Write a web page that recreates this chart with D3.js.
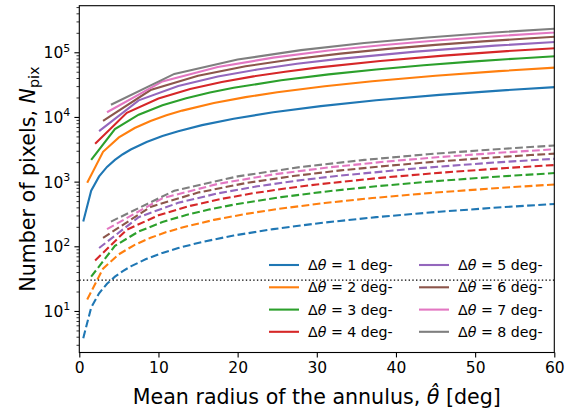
<!DOCTYPE html>
<html>
<head>
<meta charset="utf-8">
<script src="https://cdn.jsdelivr.net/npm/d3@7"></script>
<style>
  html, body { margin: 0; padding: 0; background: #fff; }
  svg { display: block; font-family: "DejaVu Sans", sans-serif; }
</style>
</head>
<body>
<svg id="chart" width="572" height="412"></svg>
<script>
// ---------------- data ----------------
const deltas = [1, 2, 3, 4, 5, 6, 7, 8];
const colors = ["#1f77b4", "#ff7f0e", "#2ca02c", "#d62728", "#9467bd", "#8c564b", "#e377c2", "#7f7f7f"];

// mean radius of each annulus (deg) for each Δθ
const theta1 = [0.5, 1.5, 2.5, 3.5, 4.5, 5.5, 6.5, 8.5, 10.5, 12.5, 15.5, 19.5, 24.5, 30.5, 37.5, 45.5, 53.5, 61.5];
const theta2 = [1, 3, 5, 7, 9, 11, 13, 17, 21, 25, 31, 37, 45, 53, 61];
const theta3 = [1.5, 4.5, 7.5, 10.5, 13.5, 16.5, 19.5, 25.5, 31.5, 37.5, 43.5, 49.5, 55.5, 61.5];
const theta4 = [2, 6, 10, 14, 18, 22, 26, 30, 38, 46, 54, 62];
const theta5 = [2.5, 7.5, 12.5, 17.5, 22.5, 27.5, 32.5, 42.5, 52.5, 62.5];
const theta6 = [3, 9, 15, 21, 27, 33, 39, 45, 51, 57, 63];
const theta7 = [3.5, 10.5, 17.5, 24.5, 31.5, 38.5, 45.5, 52.5, 59.5, 66.5];
const theta8 = [4, 12, 20, 28, 36, 44, 52, 60, 68];

// number of pixels, fine resolution (solid lines)
const fine1 = [241, 723, 1205, 1687, 2169, 2651, 3133, 4097, 5061, 6025, 7471, 9399, 11809, 14701, 18075, 21931, 25787, 29643];
const fine2 = [964, 2892, 4820, 6748, 8676, 10604, 12532, 16388, 20244, 24100, 29884, 35668, 43380, 51092, 58804];
const fine3 = [2169, 6507, 10845, 15183, 19521, 23859, 28197, 36873, 45549, 54225, 62901, 71577, 80253, 88929];
const fine4 = [3856, 11568, 19280, 26992, 34704, 42416, 50128, 57840, 73264, 88688, 104112, 119536];
const fine5 = [6025, 18075, 30125, 42175, 54225, 66275, 78325, 102425, 126525, 150625];
const fine6 = [8676, 26028, 43380, 60732, 78084, 95436, 112788, 130140, 147492, 164844, 182196];
const fine7 = [11809, 35427, 59045, 82663, 106281, 129899, 153517, 177135, 200753, 224371];
const fine8 = [15424, 46272, 77120, 107968, 138816, 169664, 200512, 231360, 262208];

// number of pixels, coarse resolution (dashed lines)
const coarse1 = [3.8, 11.3, 18.8, 26.4, 33.9, 41.4, 48.9, 64.0, 79.1, 94.1, 116.7, 146.8, 184.5, 229.7, 282.4, 342.6, 402.9, 463.1];
const coarse2 = [15.1, 45.2, 75.3, 105.4, 135.5, 165.7, 195.8, 256.0, 316.3, 376.5, 466.9, 557.2, 677.7, 798.2, 918.7];
const coarse3 = [33.9, 101.7, 169.4, 237.2, 305.0, 372.7, 440.5, 576.0, 711.6, 847.1, 982.7, 1118.2, 1253.7, 1389.3];
const coarse4 = [60.2, 180.7, 301.2, 421.7, 542.2, 662.6, 783.1, 903.6, 1144.6, 1385.5, 1626.5, 1867.4];
const coarse5 = [94.1, 282.4, 470.6, 658.9, 847.1, 1035.4, 1223.6, 1600.1, 1976.6, 2353.1];
const coarse6 = [135.5, 406.6, 677.7, 948.8, 1219.9, 1490.9, 1762.0, 2033.1, 2304.2, 2575.3, 2846.3];
const coarse7 = [184.5, 553.5, 922.4, 1291.4, 1660.4, 2029.3, 2398.3, 2767.3, 3136.2, 3505.2];
const coarse8 = [241.0, 722.9, 1204.8, 1686.7, 2168.6, 2650.6, 3132.5, 3614.4, 4096.3];

const thresholdValue = 30;
const xTicks = [0, 10, 20, 30, 40, 50, 60];
const yMajorTicks = [10, 100, 1000, 10000, 100000];
const yTickExponents = ["1", "2", "3", "4", "5"];
const xDomain = [0, 60];
const yDomain = [2.28, 525000];
const legendLabels = deltas.map(d => d + " deg-");

// ---------------- chart ----------------
const thetas = [theta1, theta2, theta3, theta4, theta5, theta6, theta7, theta8];
const fines = [fine1, fine2, fine3, fine4, fine5, fine6, fine7, fine8];
const coarses = [coarse1, coarse2, coarse3, coarse4, coarse5, coarse6, coarse7, coarse8];

const svg = d3.select("#chart");
const L = 79.3, R = 554.3, T = 5.7, B = 352.5;

const x = d3.scaleLinear().domain(xDomain).range([L, R]);
const y = d3.scaleLog().domain(yDomain).range([B, T]);

svg.append("defs").append("clipPath").attr("id", "clip")
  .append("rect").attr("x", L).attr("y", T).attr("width", R - L).attr("height", B - T);

const plot = svg.append("g").attr("clip-path", "url(#clip)");
const line = d3.line().x(d => x(d[0])).y(d => y(d[1]));

// dashed (coarse)
deltas.forEach((dl, i) => {
  plot.append("path")
    .datum(thetas[i].map((t, j) => [t, coarses[i][j]]))
    .attr("d", line).attr("fill", "none")
    .attr("stroke", colors[i]).attr("stroke-width", 2.1)
    .attr("stroke-dasharray", "7.8,3.4");
});
// solid (fine)
deltas.forEach((dl, i) => {
  plot.append("path")
    .datum(thetas[i].map((t, j) => [t, fines[i][j]]))
    .attr("d", line).attr("fill", "none")
    .attr("stroke", colors[i]).attr("stroke-width", 2.1);
});

// threshold dotted line
plot.append("line")
  .attr("x1", L).attr("x2", R)
  .attr("y1", y(thresholdValue)).attr("y2", y(thresholdValue))
  .attr("stroke", "#000").attr("stroke-width", 1.1)
  .attr("stroke-dasharray", "1.4,2.3");

// axes
const xAxis = d3.axisBottom(x).tickValues(xTicks).tickSize(4.9).tickPadding(4.5).tickFormat(d3.format("d"));
const gx = svg.append("g").attr("transform", `translate(0,${B})`).call(xAxis);
gx.select(".domain").remove();
gx.selectAll("line").attr("stroke", "#000").attr("stroke-width", 1.1);
gx.selectAll("text").attr("font-size", 15.5).attr("fill", "#000").attr("font-family", "DejaVu Sans");

// minor y ticks
const minorTicks = y.ticks().filter(v => {
  const m = v / Math.pow(10, Math.floor(Math.log10(v) + 1e-9));
  return Math.abs(m - 1) > 1e-6;
});
const gyMinor = svg.append("g").attr("transform", `translate(${L},0)`)
  .call(d3.axisLeft(y).tickValues(minorTicks).tickSize(2.8).tickFormat(""));
gyMinor.select(".domain").remove();
gyMinor.selectAll("line").attr("stroke", "#000").attr("stroke-width", 0.8);

const gy = svg.append("g").attr("transform", `translate(${L},0)`)
  .call(d3.axisLeft(y).tickValues(yMajorTicks).tickSize(4.9).tickPadding(3.5).tickFormat(""));
gy.select(".domain").remove();
gy.selectAll("line").attr("stroke", "#000").attr("stroke-width", 1.1);
gy.selectAll(".tick").each(function(d, i) {
  const t = d3.select(this).select("text")
    .attr("font-size", 15.5).attr("fill", "#000").attr("font-family", "DejaVu Sans")
    .attr("dy", "0.36em").attr("x", -9);
  t.text(null);
  t.append("tspan").text("10");
  t.append("tspan").attr("font-size", 11).attr("dy", "-0.62em").text(yTickExponents[i]);
});

// spines
svg.append("rect").attr("x", L).attr("y", T).attr("width", R - L).attr("height", B - T)
  .attr("fill", "none").attr("stroke", "#000").attr("stroke-width", 1.1);

// axis labels
const xl = svg.append("text").attr("x", (L + R) / 2).attr("y", 404)
  .attr("text-anchor", "middle").attr("font-size", 20.6).attr("fill", "#000");
xl.append("tspan").text("Mean radius of the annulus, ");
xl.append("tspan").attr("font-style", "italic").text("θ\u0302");
xl.append("tspan").text(" [deg]");

const yl = svg.append("text")
  .attr("transform", `translate(35,${(T + B) / 2}) rotate(-90)`)
  .attr("text-anchor", "middle").attr("font-size", 20.6).attr("fill", "#000");
yl.append("tspan").text("Number of pixels, ");
yl.append("tspan").attr("font-style", "italic").text("N");
yl.append("tspan").attr("font-size", 14.4).attr("dy", "0.3em").text("pix");

// legend
const legend = svg.append("g");
const rowY = [265, 287.3, 309.6, 331.8];
const colX = [269, 419];
deltas.forEach((dl, i) => {
  const cx = colX[Math.floor(i / 4)], cy = rowY[i % 4];
  legend.append("line").attr("x1", cx).attr("x2", cx + 30).attr("y1", cy).attr("y2", cy)
    .attr("stroke", colors[i]).attr("stroke-width", 2.1);
  const t = legend.append("text").attr("x", cx + 39).attr("y", cy + 5)
    .attr("font-size", 14.2).attr("fill", "#000");
  t.append("tspan").text("Δ");
  t.append("tspan").attr("font-style", "italic").text("θ");
  t.append("tspan").text(" = " + legendLabels[i]);
});
</script>
</body>
</html>
